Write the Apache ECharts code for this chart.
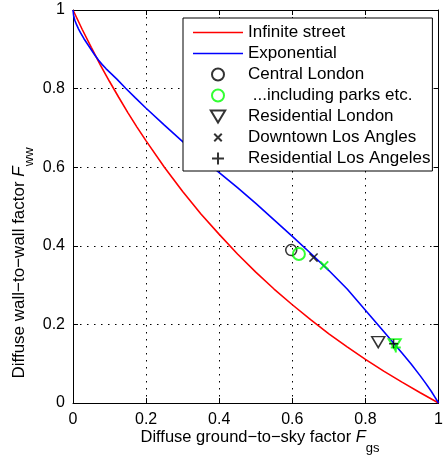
<!DOCTYPE html>
<html>
<head>
<meta charset="utf-8">
<script src="https://cdn.jsdelivr.net/npm/echarts@6/dist/echarts.min.js"></script>
<style>
  html, body { margin: 0; padding: 0; background: #fff; }
  #chart { width: 446px; height: 455px; }
</style>
</head>
<body>
<div id="chart"></div>
<script>
// Axis ticks (both axes run 0..1)
const tickValues = [0, 0.2, 0.4, 0.6, 0.8, 1];

// Model curves: [F_gs, F_ww]
const infiniteStreet = [
  [0, 1], [0.025, 0.951], [0.05, 0.905], [0.075, 0.860], [0.1, 0.818], [0.125, 0.778],
  [0.15, 0.739], [0.175, 0.702], [0.2, 0.667], [0.25, 0.600], [0.3, 0.538], [0.35, 0.481],
  [0.4, 0.429], [0.45, 0.379], [0.5, 0.333], [0.55, 0.290], [0.6, 0.250], [0.65, 0.212],
  [0.7, 0.176], [0.75, 0.143], [0.8, 0.111], [0.85, 0.081], [0.9, 0.053],
  [0.95, 0.026], [1, 0]
];
const exponential = [
  [0, 1], [0.002, 0.984], [0.005, 0.974], [0.01, 0.962], [0.015, 0.952], [0.02, 0.943],
  [0.03, 0.927], [0.04, 0.913], [0.05, 0.899], [0.06, 0.885], [0.07, 0.872],
  [0.08, 0.861], [0.09, 0.851], [0.1, 0.842], [0.12, 0.824], [0.144, 0.801],
  [0.17, 0.777], [0.2, 0.750], [0.25, 0.707], [0.3, 0.665], [0.35, 0.625],
  [0.4, 0.586], [0.45, 0.548], [0.5, 0.508], [0.55, 0.466], [0.6, 0.424],
  [0.65, 0.381], [0.7, 0.337], [0.75, 0.290], [0.8, 0.236], [0.85, 0.182],
  [0.9, 0.127], [0.925, 0.099], [0.95, 0.069], [0.965, 0.050], [0.98, 0.030],
  [0.99, 0.015], [1, 0]
];

// Measured sites: [F_gs, F_ww]
const centralLondon = [[0.597, 0.389]];
const residentialLondon = [[0.835, 0.155]];
const downtownLA = [[0.658, 0.370]];
const residentialLA = [[0.877, 0.151]];
// Same sites with parks etc. included (circle, cross, triangle, plus)
const withParks = [[0.618, 0.379], [0.687, 0.350], [0.880, 0.150], [0.883, 0.141]];

const seriesNames = [
  'Infinite street', 'Exponential', 'Central London', ' ...including parks etc.',
  'Residential London', 'Downtown Los Angles', 'Residential Los Angeles'
];

const FONT = '"Liberation Sans", Arial, Helvetica, sans-serif';
// Stroke-only marker outlines; the leading moves pad the cross box
const CROSS = 'path://M-3,-3M13,13M0,0L10,10M0,10L10,0';
const PLUS = 'path://M5,0L5,10M0,5L10,5';
const TRI_DOWN = 'path://M0,0L12,0L6,10Z';
const LINE_ICON = 'path://M0,0L50,0L50,1.6L0,1.6Z';

const hollow = (c, w) => ({ color: 'transparent', borderColor: c, borderWidth: w });

const chart = echarts.init(document.getElementById('chart'), null, { renderer: 'canvas' });

const gridDots = { show: true, lineStyle: { color: '#000', type: [1.5, 5.5], width: 1 } };
const baseAxis = {
  type: 'value', min: 0, max: 1, interval: 0.2,
  axisLine: { show: true, onZero: false, lineStyle: { color: '#000', width: 1 } },
  axisTick: { show: true, inside: true, length: 5, lineStyle: { color: '#000', width: 1 } }
};
const tickLabel = {
  color: '#000', fontSize: 16, fontFamily: FONT,
  formatter: v => String(+v.toFixed(1))
};

const option = {
  backgroundColor: '#fff',
  animation: false,
  textStyle: { fontFamily: FONT },
  grid: { left: 73, top: 10, width: 372, height: 393, containLabel: false },
  xAxis: [
    Object.assign({}, baseAxis, {
      position: 'bottom',
      axisLabel: Object.assign({ margin: 9 }, tickLabel),
      splitLine: gridDots
    }),
    Object.assign({}, baseAxis, {
      position: 'top', axisLabel: { show: false }, splitLine: { show: false }
    })
  ],
  yAxis: [
    Object.assign({}, baseAxis, {
      position: 'left',
      axisLabel: Object.assign({ margin: 8 }, tickLabel),
      splitLine: gridDots
    }),
    Object.assign({}, baseAxis, {
      position: 'right', axisLabel: { show: false }, splitLine: { show: false }
    })
  ],
  legend: {
    data: [
      { name: seriesNames[0], icon: LINE_ICON },
      { name: seriesNames[1], icon: LINE_ICON },
      seriesNames[2], seriesNames[3], seriesNames[4], seriesNames[5], seriesNames[6]
    ],
    orient: 'vertical',
    left: 183, top: 18,
    padding: [4, 2, 2, 10],
    itemGap: 0,
    itemWidth: 50, itemHeight: 12, itemTextGap: 6,
    borderColor: '#000', borderWidth: 1, backgroundColor: '#fff',
    textStyle: { color: '#000', fontSize: 17, lineHeight: 21, fontFamily: FONT },
    selectedMode: false,
    z: 10
  },
  graphic: [
    {
      type: 'text', x: 260, y: 437, z: 10,
      style: {
        text: '{a|Diffuse ground\u2212to\u2212sky factor }{f|F}{s|gs}',
        align: 'center', verticalAlign: 'middle',
        rich: {
          a: { fontSize: 16.5, fontFamily: FONT, color: '#000' },
          f: { fontSize: 16.5, fontFamily: FONT, fontStyle: 'italic', color: '#000' },
          s: { fontSize: 13, fontFamily: FONT, color: '#000', padding: [22, 0, 0, 0] }
        }
      }
    },
    {
      type: 'text', x: 19, y: 263, rotation: Math.PI / 2, z: 10,
      style: {
        text: '{a|Diffuse wall\u2212to\u2212wall factor }{f|F}{s|ww}',
        align: 'center', verticalAlign: 'middle',
        rich: {
          a: { fontSize: 17, fontFamily: FONT, color: '#000' },
          f: { fontSize: 17, fontFamily: FONT, fontStyle: 'italic', color: '#000' },
          s: { fontSize: 13, fontFamily: FONT, color: '#000', padding: [20, 0, 0, 0] }
        }
      }
    }
  ],
  series: [
    {
      name: seriesNames[0], type: 'line', data: infiniteStreet,
      symbol: 'none', showSymbol: false,
      lineStyle: { color: '#ff0000', width: 1.6 }, itemStyle: { color: '#ff0000' }, z: 3
    },
    {
      name: seriesNames[1], type: 'line', data: exponential,
      symbol: 'none', showSymbol: false,
      lineStyle: { color: '#0000ff', width: 1.6 }, itemStyle: { color: '#0000ff' }, z: 3
    },
    {
      name: seriesNames[2], type: 'scatter', data: centralLondon,
      symbol: 'circle', symbolSize: 11, itemStyle: hollow('#000', 1.5), z: 4
    },
    {
      name: seriesNames[3], type: 'scatter', symbol: 'circle', symbolSize: 12,
      itemStyle: hollow('#00ff00', 2), z: 5,
      data: [
        { value: withParks[0] },
        { value: withParks[1], symbol: CROSS, symbolSize: 13 },
        { value: withParks[2], symbol: TRI_DOWN, symbolSize: [12, 10] },
        { value: withParks[3], symbol: PLUS, symbolSize: 10 }
      ]
    },
    {
      name: seriesNames[4], type: 'scatter', data: residentialLondon,
      symbol: TRI_DOWN, symbolSize: [13, 11], itemStyle: hollow('#000', 1.5), z: 4
    },
    {
      name: seriesNames[5], type: 'scatter', data: downtownLA,
      symbol: CROSS, symbolSize: 13, itemStyle: hollow('#000', 1.5), z: 4
    },
    {
      name: seriesNames[6], type: 'scatter', data: residentialLA,
      symbol: PLUS, symbolSize: 9, itemStyle: hollow('#000', 1.5), z: 6
    }
  ]
};

chart.setOption(option);
</script>
</body>
</html>
